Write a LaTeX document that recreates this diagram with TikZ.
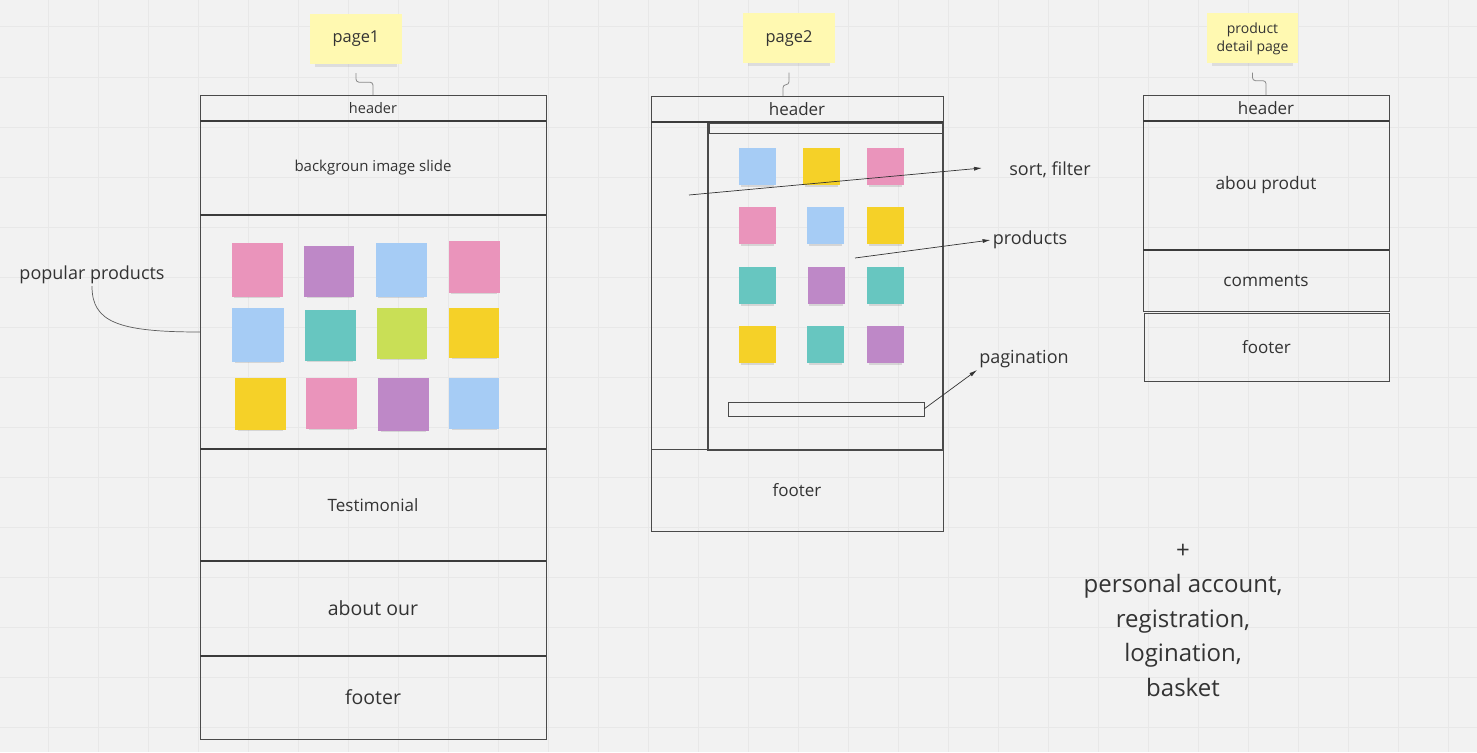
\documentclass[tikz,border=0pt]{standalone}
\usepackage{fontspec}
\setmainfont{Open Sans}
\usepackage{xcolor}
\usetikzlibrary{arrows.meta,shadows,positioning}
\definecolor{BoardGray}{HTML}{F2F2F2}
\definecolor{GridGray}{HTML}{E8E8E8}
\definecolor{InkGray}{HTML}{333333}
\definecolor{FrameGray}{HTML}{4A4A4A}
\definecolor{LinkGray}{HTML}{8A8A8A}
\definecolor{TitleYellow}{HTML}{FFF9B1}
\definecolor{NotePink}{HTML}{EA94BB}
\definecolor{NotePurple}{HTML}{BE88C7}
\definecolor{NoteBlue}{HTML}{A6CCF5}
\definecolor{NoteTeal}{HTML}{67C6C0}
\definecolor{NoteGreen}{HTML}{C9DF56}
\definecolor{NoteYellow}{HTML}{F5D128}
\tikzset{
  section/.style={draw=FrameGray,line width=1pt,inner sep=0pt,outer sep=0pt,text=InkGray},
  divider/.style={FrameGray!80!black,line width=2pt},
  titlenote/.style={fill=TitleYellow,minimum width=92pt,minimum height=50pt,inner sep=0pt,text=InkGray,align=center,
    drop shadow={shadow xshift=0pt,shadow yshift=-6pt,shadow scale=0.9,opacity=0.18}},
  sticky/.style={fill=#1,inner sep=0pt,drop shadow={shadow xshift=0pt,shadow yshift=-4pt,shadow scale=0.9,opacity=0.25}},
  link/.style={LinkGray,line width=0.8pt,rounded corners=3pt},
  pointer/.style={InkGray,line width=0.7pt,-{Latex[length=8pt,width=4pt]}},
  note/.style={text=InkGray,inner sep=2pt},
}
\begin{document}
\begin{tikzpicture}[x=1pt,y=-1pt]
  \useasboundingbox (0,0) rectangle (1477,752);
  \fill[BoardGray] (0,0) rectangle (1477,752);
  % grid of the board
  \foreach \gx in {48,98,...,1448} \draw[GridGray,line width=1pt] (\gx,0) -- (\gx,752);
  \foreach \gy in {27,77,...,727} \draw[GridGray,line width=1pt] (0,\gy) -- (1477,\gy);

  % page 1
  \node[section,minimum width=346pt,minimum height=26pt,font=\fontsize{14.5}{16}\selectfont] (p1head) at (373,108) {header};
  \node[section,minimum width=346pt,minimum height=94pt,font=\fontsize{15}{17}\selectfont] (p1slide) at (373,168) {backgroun image slide};
  \node[section,minimum width=346pt,minimum height=234pt] (p1prod) at (373,332) {};
  \node[section,minimum width=346pt,minimum height=112pt,font=\fontsize{17}{19}\selectfont] (p1test) at (373,505) {Testimonial};
  \node[section,minimum width=346pt,minimum height=95pt,font=\fontsize{19.5}{22}\selectfont] (p1about) at (373,608.5) {about our};
  \node[section,minimum width=346pt,minimum height=83pt,font=\fontsize{19.5}{22}\selectfont] (p1foot) at (373,697.5) {footer};
  \draw[divider] (p1head.south west) -- (p1head.south east);
  \draw[divider] (p1prod.north west) -- (p1prod.north east);
  \draw[divider] (p1prod.south west) -- (p1prod.south east);
  \draw[divider] (p1about.north west) -- (p1about.north east);
  \draw[divider] (p1foot.north west) -- (p1foot.north east);

  \node[sticky=NotePink,minimum width=51pt,minimum height=54pt] (pa1) at (257,270) {};
  \node[sticky=NotePurple,minimum width=50pt,minimum height=51pt] (pa2) at (329,271.5) {};
  \node[sticky=NoteBlue,minimum width=51pt,minimum height=54pt] (pa3) at (401,270) {};
  \node[sticky=NotePink,minimum width=51pt,minimum height=52pt] (pa4) at (474,267) {};
  \node[sticky=NoteBlue,minimum width=52pt,minimum height=54pt] (pb1) at (258,335) {};
  \node[sticky=NoteTeal,minimum width=51pt,minimum height=51pt] (pb2) at (330,335.5) {};
  \node[sticky=NoteGreen,minimum width=50pt,minimum height=51pt] (pb3) at (402,333.5) {};
  \node[sticky=NoteYellow,minimum width=50pt,minimum height=50pt] (pb4) at (474,333) {};
  \node[sticky=NoteYellow,minimum width=51pt,minimum height=52pt] (pc1) at (260.5,404) {};
  \node[sticky=NotePink,minimum width=51pt,minimum height=51pt] (pc2) at (331.5,403.5) {};
  \node[sticky=NotePurple,minimum width=51pt,minimum height=53pt] (pc3) at (403.5,404.5) {};
  \node[sticky=NoteBlue,minimum width=50pt,minimum height=51pt] (pc4) at (474,403.5) {};

  \node[note,font=\fontsize{18}{20}\selectfont] (poplabel) at (92,275) {popular products};
  \draw[InkGray!80,line width=0.7pt] (poplabel.south) .. controls (92,322) and (118,332) .. (p1prod.west);

  % page 2
  \node[section,minimum width=292pt,minimum height=26pt,font=\fontsize{17}{19}\selectfont] (p2head) at (797,109) {header};
  \node[section,minimum width=57pt,minimum height=327pt] (p2side) at (679.5,285.5) {};
  \node[section,line width=1.5pt,minimum width=235pt,minimum height=328pt] (p2main) at (825.5,286) {};
  \node[section,minimum width=234pt,minimum height=10pt] (p2bar) at (826,128) {};
  \node[section,minimum width=292pt,minimum height=82pt,font=\fontsize{17}{19}\selectfont] (p2foot) at (797,490) {footer};
  \draw[divider] (p2head.south west) -- (p2head.south east);
  \node[section,minimum width=196pt,minimum height=14pt] (p2pages) at (826,409) {};

  \node[sticky=NoteBlue,minimum size=37pt] (qa1) at (757.5,166.5) {};
  \node[sticky=NoteYellow,minimum size=37pt] (qa2) at (821.5,166.5) {};
  \node[sticky=NotePink,minimum size=37pt] (qa3) at (885.5,166.5) {};
  \node[sticky=NotePink,minimum size=37pt] (qb1) at (757.5,225.5) {};
  \node[sticky=NoteBlue,minimum size=37pt] (qb2) at (825.5,225.5) {};
  \node[sticky=NoteYellow,minimum size=37pt] (qb3) at (885.5,225.5) {};
  \node[sticky=NoteTeal,minimum size=37pt] (qc1) at (757.5,285.5) {};
  \node[sticky=NotePurple,minimum size=37pt] (qc2) at (826,285.5) {};
  \node[sticky=NoteTeal,minimum size=37pt] (qc3) at (885.5,285.5) {};
  \node[sticky=NoteYellow,minimum size=37pt] (qd1) at (757.5,344.5) {};
  \node[sticky=NoteTeal,minimum size=37pt] (qd2) at (825.5,344.5) {};
  \node[sticky=NotePurple,minimum size=37pt] (qd3) at (885.5,344.5) {};

  \node[note,font=\fontsize{18}{20}\selectfont] (sortlabel) at (1050,170) {sort, filter};
  \node[note,font=\fontsize{18}{20}\selectfont] (prodlabel) at (1030,240) {products};
  \node[note,font=\fontsize{18}{20}\selectfont] (pagelabel) at (1024,359) {pagination};
  \coordinate (sortfrom) at (689,195);
  \coordinate (sortto) at (982,168);
  \coordinate (prodfrom) at (855,258);
  \draw[pointer] (sortfrom) -- (sortto);
  \draw[pointer] (prodfrom) -- (prodlabel.west);
  \draw[pointer] (p2pages.east) -- (pagelabel.south west);

  % product detail page
  \node[section,minimum width=246pt,minimum height=26pt,font=\fontsize{17}{19}\selectfont] (p3head) at (1266,108) {header};
  \node[section,minimum width=246pt,minimum height=129pt,font=\fontsize{17.3}{19}\selectfont] (p3about) at (1266,185.5) {abou produt};
  \node[section,minimum width=246pt,minimum height=61pt,font=\fontsize{17.2}{19}\selectfont] (p3comm) at (1266,280.5) {comments};
  \node[section,minimum width=245pt,minimum height=68pt,font=\fontsize{17}{19}\selectfont] (p3foot) at (1266.5,347) {footer};
  \draw[divider] (p3head.south west) -- (p3head.south east);
  \draw[divider] (p3comm.north west) -- (p3comm.north east);

  % titles
  \node[titlenote,font=\fontsize{16.4}{18}\selectfont] (t1) at (356,39) {page1};
  \node[titlenote,font=\fontsize{16.4}{18}\selectfont] (t2) at (789,38.5) {page2};
  \node[titlenote,minimum width=91pt,font=\fontsize{14}{18}\selectfont] (t3) at (1252.5,38.5) {product\\detail page};
  \draw[link] ([yshift=-9pt]t1.south) -- ++(0,9) -| (p1head.north);
  \draw[link] ([yshift=-9pt]t2.south) -- ++(0,12) -| ([xshift=-14pt]p2head.north);
  \draw[link] ([yshift=-9pt]t3.south) -- ++(0,8) -| (p3head.north);

  \node[text=InkGray,align=center,font=\fontsize{24}{34.5}\selectfont] (extras) at (1183,620)
    {+\\personal account,\\registration,\\logination,\\basket};
\end{tikzpicture}
\end{document}
